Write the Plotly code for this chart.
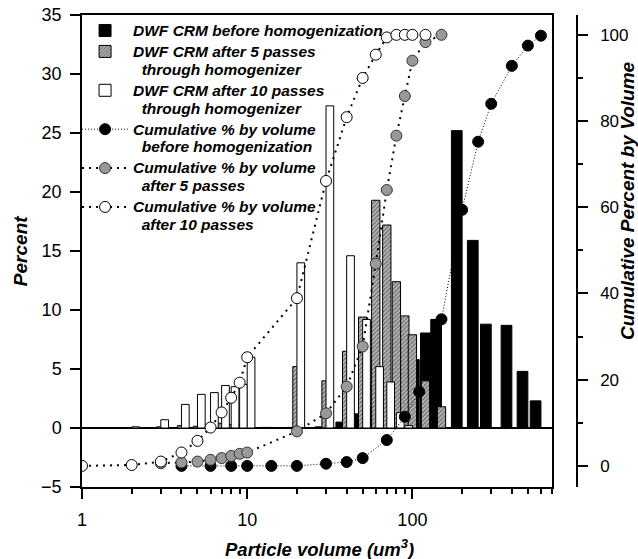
import numpy as np
import plotly.graph_objects as go

# ---------------- data ----------------
# bar series (Percent, left axis)
black_x = [4, 6, 8, 10, 14, 20, 30, 40, 50, 60, 70, 80, 90, 110, 130, 150, 200, 250, 300, 400, 500, 600]
black_h = [0.03, 0.03, 0.03, 0.05, 0.05, 0.05, 0.1, 0.5, 1.2, 1.8, 2.4, 2.6, 2.8, 5.8, 8.05, 9.2, 25.2, 15.9, 8.8, 8.7, 4.8, 2.3]

hatch_x = [3, 4, 5, 6, 7, 8, 9, 10, 20, 30, 40, 50, 60, 70, 80, 90, 100, 120, 150]
hatch_h = [0.1, 0.2, 0.15, 0.3, 0.4, 0.3, 0.3, 0.3, 5.2, 4.0, 6.5, 9.4, 19.3, 17.2, 12.4, 9.5, 7.9, 4.0, 1.8]

white_x = [2, 3, 4, 5, 6, 7, 8, 9, 10, 20, 30, 40, 50, 60, 70, 80, 90]
white_h = [0.1, 0.7, 2.0, 2.85, 3.0, 3.6, 3.5, 3.7, 6.0, 14.0, 27.3, 14.6, 9.2, 5.2, 3.9, 1.3, 0.2]

# cumulative series (right axis)
cum_black_x = [4, 6, 8, 10, 14, 20, 30, 40, 50, 70, 90, 110, 150, 200, 250, 300, 400, 500, 600]
cum_black_y = [0, 0, 0, 0, 0, 0, 0.5, 0.9, 1.8, 6.0, 11.4, 17.2, 34.0, 59.4, 75.2, 84.0, 92.8, 97.5, 99.8]

cum_hatch_x = [3, 4, 5, 6, 7, 8, 9, 10, 20, 30, 40, 50, 60, 70, 80, 90, 100, 120, 150]
cum_hatch_y = [0.6, 0.8, 1.0, 1.4, 1.8, 2.3, 2.8, 3.1, 8.0, 12.2, 18.4, 27.7, 46.9, 64.0, 76.6, 85.8, 94.0, 98.3, 100]

cum_white_x = [1, 2, 3, 4, 5, 6, 7, 8, 9, 10, 20, 30, 40, 50, 60, 70, 80, 90, 100, 120]
cum_white_y = [0, 0.2, 1.0, 3.1, 5.8, 8.9, 12.4, 15.8, 19.3, 25.2, 38.9, 66.1, 80.9, 90.0, 95.4, 99.4, 100, 100, 100, 100]

x_major = [1, 10, 100]
x_major_text = ["1", "10", "100"]
x_minor = [2, 3, 4, 5, 6, 7, 8, 9, 20, 30, 40, 50, 60, 70, 80, 90, 200, 300, 400, 500, 600, 700]
x_max = 700

y2_major = [0, 20, 40, 60, 80, 100]
y2_minor = [10, 30, 50, 70, 90]

legend_lines = [
    ["DWF CRM before homogenization"],
    ["DWF CRM after 5 passes", "  through homogenizer"],
    ["DWF CRM after 10 passes", "  through homogenizer"],
    ["Cumulative % by volume", "  before homogenization"],
    ["Cumulative % by volume", "  after 5 passes"],
    ["Cumulative % by volume", "  after 10 passes"],
]
names = ["<br>".join("<span style='font-size:15.5px'>%s</span>" % s for s in lines)
         for lines in legend_lines]

# ---------------- bar geometry (multiplicative widths on log axis) ----------------
fb = 1.161   # black: bar ends at x
fh = 1.0596  # hatched: centred on x
fw = 1.1135  # white: bar starts at x

FONT = "Liberation Sans, Arial, sans-serif"

fig = go.Figure()
fig.add_trace(go.Bar(
    x=black_x, y=black_h, name=names[0],
    offset=[-v * (1 - 1 / fb) for v in black_x],
    width=[v * (1 - 1 / fb) for v in black_x],
    marker=dict(color="black", line=dict(color="black", width=1)),
))
fig.add_trace(go.Bar(
    x=hatch_x, y=hatch_h, name=names[1],
    offset=[v / fh - v for v in hatch_x],
    width=[v * (fh - 1 / fh) for v in hatch_x],
    marker=dict(color="#b8b8b8",
                pattern=dict(shape="/", fgcolor="#222222", bgcolor="#bcbcbc", size=3, solidity=0.45),
                line=dict(color="black", width=1)),
))
fig.add_trace(go.Bar(
    x=white_x, y=white_h, name=names[2],
    offset=[0 for v in white_x],
    width=[v * (fw - 1) for v in white_x],
    marker=dict(color="white", line=dict(color="black", width=1)),
))

fig.add_trace(go.Scatter(
    x=cum_black_x, y=cum_black_y, yaxis="y2", name=names[3], mode="lines+markers",
    line=dict(color="black", width=1, dash="1px,2px"),
    marker=dict(size=11, color="black", line=dict(color="black", width=1)),
))
fig.add_trace(go.Scatter(
    x=cum_hatch_x, y=cum_hatch_y, yaxis="y2", name=names[4], mode="lines+markers",
    line=dict(color="black", width=2, dash="2px,5px"),
    marker=dict(size=11, color="#999999", line=dict(color="#333333", width=1)),
))
fig.add_trace(go.Scatter(
    x=cum_white_x, y=cum_white_y, yaxis="y2", name=names[5], mode="lines+markers",
    line=dict(color="black", width=2, dash="2px,5px"),
    marker=dict(size=11, color="white", line=dict(color="black", width=1)),
))

axis_common = dict(showgrid=False, showline=True, linecolor="black", linewidth=1.5,
                   ticks="outside", tickcolor="black", tickwidth=1.5)

fig.update_layout(
    width=638, height=559,
    margin=dict(l=82, r=61, t=15, b=72, autoexpand=False),
    paper_bgcolor="white", plot_bgcolor="white",
    barmode="overlay",
    showlegend=True,
    legend=dict(x=-0.01, y=1.0, xanchor="left", yanchor="top", bgcolor="rgba(0,0,0,0)",
                valign="top", tracegroupgap=0, itemwidth=46,
                font=dict(family=FONT, size=13.8, color="black", style="italic", weight="bold")),
    xaxis=dict(type="log", range=[0, float(np.log10(x_max))], domain=[0, 0.9495],
               mirror=True, ticklen=10, tickmode="array", tickvals=x_major, ticktext=x_major_text,
               ticklabelstandoff=6, tickfont=dict(family=FONT, size=18, color="black"),
               minor=dict(ticks="outside", ticklen=5, tickwidth=1.5, tickcolor="black",
                          tickmode="array", tickvals=x_minor),
               zeroline=False, **axis_common),
    yaxis=dict(range=[-5, 35], dtick=5, ticklen=10, mirror=True,
               zeroline=True, zerolinecolor="black", zerolinewidth=1.5,
               ticklabelstandoff=5, tickfont=dict(family=FONT, size=18, color="black"),
               **axis_common),
    yaxis2=dict(overlaying="y", side="right", anchor="free", position=1.0,
                range=[-4.9, 104.6], tickmode="array", tickvals=y2_major, ticklen=10,
                minor=dict(ticks="outside", ticklen=5, tickwidth=1.5, tickcolor="black",
                           tickmode="array", tickvals=y2_minor),
                zeroline=False, ticklabelstandoff=9,
                tickfont=dict(family=FONT, size=17, color="black"), **axis_common),
    annotations=[
        dict(text="<b><i>Percent</i></b>", xref="paper", yref="paper", x=-0.125, y=0.5,
             textangle=-90, showarrow=False, xanchor="center", yanchor="middle",
             font=dict(family=FONT, size=19, color="black")),
        dict(text="<b><i>Cumulative Percent by Volume</i></b>", xref="paper", yref="paper",
             x=1.103, y=0.606, textangle=-90, showarrow=False, xanchor="center", yanchor="middle",
             font=dict(family=FONT, size=19, color="black")),
        dict(text="<b><i>Particle volume (um<sup>3</sup>)</i></b>", xref="paper", yref="paper",
             x=0.479, y=-0.129, showarrow=False, xanchor="center", yanchor="middle",
             font=dict(family=FONT, size=18.5, color="black")),
    ],
)

fig.write_html("out.html", config={"displayModeBar": False},
               post_script="document.body.style.margin='0px';")
